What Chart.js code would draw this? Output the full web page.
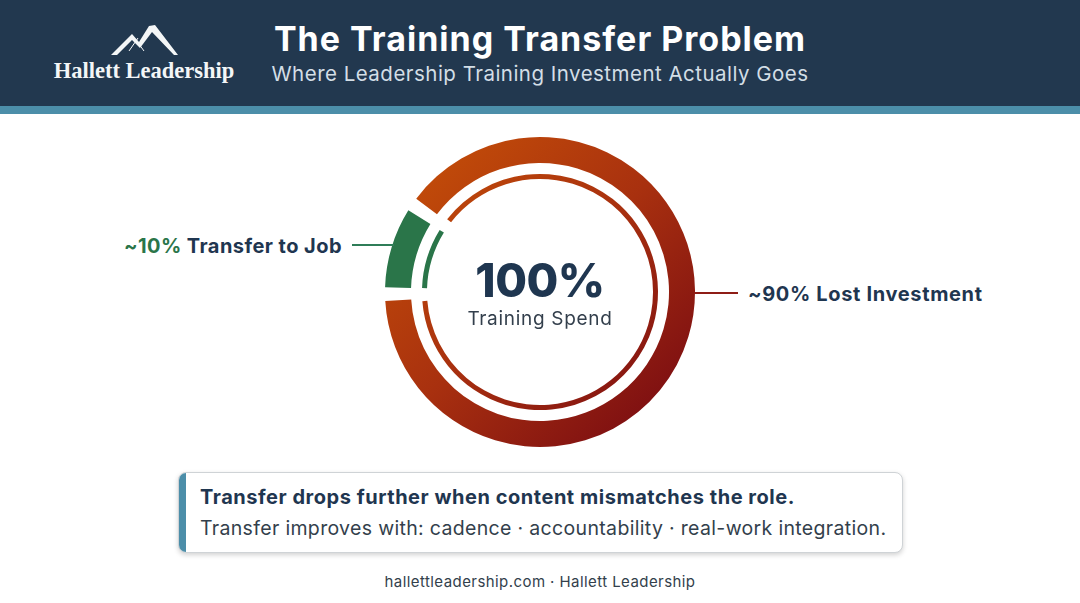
<!DOCTYPE html>
<html>
<head>
<meta charset="utf-8">
<title>The Training Transfer Problem</title>
<script src="https://cdn.jsdelivr.net/npm/chart.js@4"></script>
<style>
  html, body { margin: 0; padding: 0; background: #fff; }
  #page { position: relative; width: 1080px; height: 603px; overflow: hidden; font-family: Inter, "Open Sans", sans-serif; color: #1f3650; }
  #page div { position: absolute; white-space: nowrap; }
  .header { left: 0; top: 0; width: 1080px; height: 106px; background: #22384f; }
  .band { left: 0; top: 106px; width: 1080px; height: 8px; background: #4c8ea9; }
  .brand { left: 44px; top: 58px; width: 200px; text-align: center; font: bold 22.5px "Liberation Serif", serif; color: #f4f6f7; }
  .title { left: 240px; width: 600px; top: 18px; text-align: center; font-weight: 700; font-size: 34px; letter-spacing: 1px; color: #fff; }
  .subtitle { left: 240px; width: 600px; top: 61px; text-align: center; font-size: 20.5px; letter-spacing: .48px; color: #d3dee6; }
  #donut { left: 370px; top: 122px; width: 340px; height: 340px; }
  .center1 { left: 440px; width: 200px; top: 252px; text-align: center; font-weight: 800; font-size: 46px; letter-spacing: -.5px; }
  .center2 { left: 440px; width: 200px; top: 307px; text-align: center; font-size: 19px; letter-spacing: .7px; color: #333f4c; }
  .lab1 { left: 100px; width: 242px; top: 234px; text-align: right; font-weight: 700; font-size: 20px; letter-spacing: .45px; }
  .lab1 span { color: #2a7549; }
  .lab2 { left: 748px; top: 282px; font-weight: 700; font-size: 20px; letter-spacing: .65px; }
  .lead1 { left: 352px; top: 244px; width: 42px; height: 2px; background: #2f7d58; }
  .lead2 { left: 694px; top: 292px; width: 44px; height: 2px; background: #8e1d16; }
  .box { left: 178px; top: 472px; width: 723px; height: 79px; border: 1px solid #cfd3d6; border-radius: 8px; background: #fff; box-shadow: 0 2px 5px rgba(0,0,0,.18); overflow: hidden; }
  .box .bar { left: 0; top: 0; width: 7px; height: 79px; background: #4c8ea9; }
  .box1 { left: 200px; top: 485px; font-weight: 700; font-size: 20px; letter-spacing: .53px; }
  .box2 { left: 200px; top: 516px; font-size: 19.5px; letter-spacing: .33px; color: #333f4c; }
  .foot { left: 0; width: 1080px; top: 572px; text-align: center; font-size: 15px; letter-spacing: .43px; color: #333f4c; }
</style>
</head>
<body>
<div id="page">
  <div class="header"></div>
  <div class="band"></div>
  <svg style="position:absolute;left:105px;top:20px" width="80" height="40" viewBox="0 0 80 40">
    <path d="M6 35 L27 14 L34 22 L44 6 L50 5 L73 35 L69 35 L47 12 L35 28 L27 20 L12 35 Z" fill="#f4f6f7"/>
    <path d="M24 31 L33 18 M31 20 L39 31" stroke="#f4f6f7" stroke-width="1" fill="none"/>
  </svg>
  <div class="brand">Hallett Leadership</div>
  <div class="title">The Training Transfer Problem</div>
  <div class="subtitle">Where Leadership Training Investment Actually Goes</div>
  <div id="donut"><canvas id="donutChart" width="340" height="340"></canvas></div>
  <div class="center1">100%</div>
  <div class="center2">Training Spend</div>
  <div class="lead1"></div>
  <div class="lead2"></div>
  <div class="lab1"><span>~10%</span> Transfer to Job</div>
  <div class="lab2">~90% Lost Investment</div>
  <div class="box"><div class="bar"></div></div>
  <div class="box1">Transfer drops further when content mismatches the role.</div>
  <div class="box2">Transfer improves with: cadence · accountability · real-work integration.</div>
  <div class="foot">hallettleadership.com · Hallett Leadership</div>
</div>
<script>
const categories = ['Lost Investment', 'Transfer to Job'];
// read off the drawn arcs, not the ~90 / ~10 in the labels
const shares = [91.4, 8.6];

// 赤いリングのグラデーション
function lossGradient(ctx) {
  const g = ctx.createLinearGradient(40, 30, 300, 300);
  g.addColorStop(0, '#c54f08');
  g.addColorStop(0.5, '#a8300f');
  g.addColorStop(1, '#7a0c12');
  return g;
}

function ringColors(context) {
  if (context.dataIndex === 1) return '#2a7549';
  return lossGradient(context.chart.ctx);
}

let ctx = document.getElementById('donutChart').getContext('2d');
window.donutChart = new Chart(ctx, {
  type: 'doughnut',
  data: {
    labels: categories,
    datasets: [
      { data: shares, weight: 26, spacing: 8, backgroundColor: ringColors },
      { data: shares, weight: 11, backgroundColor: 'rgba(0,0,0,0)' }, // spacer
      { data: shares, weight: 5, spacing: 8, backgroundColor: ringColors },
    ],
  },
  options: {
    animation: false,
    responsive: false,
    radius: 151, // arcs grow by spacing/2
    cutout: '72.2%',
    rotation: -57.7,
    borderWidth: 0,
    plugins: { legend: { display: false }, tooltip: { enabled: false } },
  },
});
</script>
</body>
</html>
